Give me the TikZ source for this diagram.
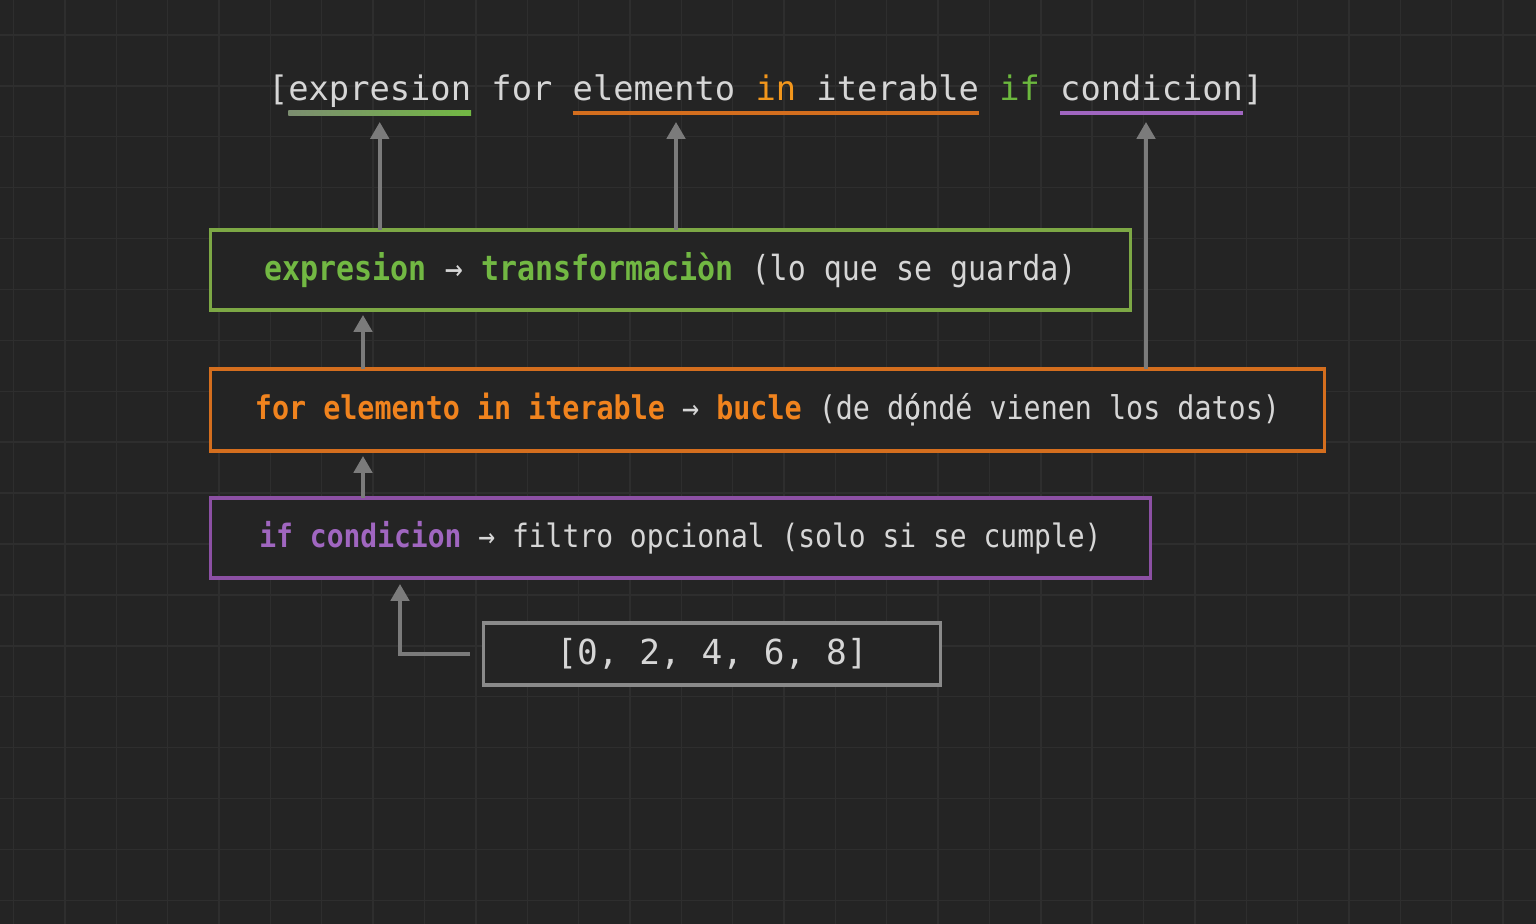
\documentclass[tikz,border=0pt]{standalone}
\usepackage{fontspec}
\setmonofont{DejaVu Sans Mono}
\newfontfamily\boxfont[FakeStretch=0.87]{DejaVu Sans Mono}
\usepackage{tikz}
\usetikzlibrary{positioning,arrows.meta}

\definecolor{bgcol}{HTML}{242424}
\definecolor{gridcol}{HTML}{2E2E2E}
\definecolor{txtcol}{HTML}{D6D6D6}
\definecolor{gcol}{HTML}{72B843}
\definecolor{gline}{HTML}{7DA845}
\definecolor{ocol}{HTML}{F0831E}
\definecolor{oline}{HTML}{D46E1E}
\definecolor{pcol}{HTML}{A066C0}
\definecolor{pline}{HTML}{8C50A4}
\definecolor{listline}{HTML}{8A8A8A}
\definecolor{arrcol}{HTML}{7B7B7B}
\definecolor{inorange}{HTML}{F2961C}
\definecolor{ifgreen}{HTML}{6CB83E}

\newcommand{\wsp}{5.78pt}

\tikzset{
  word/.style={inner sep=0pt, outer sep=0pt, text=txtcol, font=\ttfamily\fontsize{9.6}{11}\selectfont},
  codebox/.style={draw, line width=0.9pt, fill=bgcol, inner sep=0pt, outer sep=0pt, text=txtcol},
  link/.style={arrcol, line width=1.1pt},
  uline/.style={line width=1.2pt}
}

\begin{document}
\begin{tikzpicture}[>={Triangle[length=4.8pt,width=5.2pt]}]

% background and grid
\fill[bgcol] (0,0) rectangle (15.36,9.24);
\useasboundingbox (0,0) rectangle (15.36,9.24);
\foreach \gx in {0,...,29}
  \draw[gridcol, line width=0.4pt] ({0.136+0.5136*\gx},0) -- ++(0,9.24);
\foreach \gy in {0,...,17}
  \draw[gridcol, line width=0.4pt] (0,{8.89-0.509*\gy}) -- ++(15.36,0);

% comprehension line
\node[word, anchor=base west] (t_bra) at (2.68,8.23) {[};
\node[word, base right=0pt of t_bra] (t_expr) {expresion};
\node[word, base right=\wsp of t_expr] (t_for) {for};
\node[word, base right=\wsp of t_for] (t_elem) {elemento};
\node[word, base right=\wsp of t_elem, text=inorange] (t_in) {in};
\node[word, base right=\wsp of t_in] (t_iter) {iterable};
\node[word, base right=\wsp of t_iter, text=ifgreen] (t_if) {if};
\node[word, base right=\wsp of t_if] (t_cond) {condicion};
\node[word, base right=0pt of t_cond] (t_ket) {]};

% underlines
\shade[left color=gray!75!gcol, right color=gcol] ([yshift=-2.8pt]t_expr.base west) rectangle ([yshift=-4pt]t_expr.base east);
\draw[uline, oline] ([yshift=-3.4pt]t_elem.base west) -- ([yshift=-3.4pt]t_iter.base east);
\draw[uline, pcol] ([yshift=-3.4pt]t_cond.base west) -- ([yshift=-3.4pt]t_cond.base east);

% boxes
\node[codebox, draw=gline, minimum width=9.2cm, minimum height=0.8cm] (expr_b) at (6.705,6.54)
  {\boxfont\fontsize{9.8}{12}\selectfont{\bfseries\color{gcol}expresion} → {\bfseries\color{gcol}transformaciòn} (lo que se guarda)};
\node[codebox, draw=oline, minimum width=11.14cm, minimum height=0.82cm] (for_b) at (7.675,5.14)
  {\boxfont\fontsize{9.28}{12}\selectfont{\bfseries\color{ocol}for elemento in iterable} → {\bfseries\color{ocol}bucle} (de d\rlap{ọ}óndé vienen los datos)};
\node[codebox, draw=pline, minimum width=9.4cm, minimum height=0.8cm] (if_b) at (6.805,3.86)
  {\boxfont\fontsize{9.15}{12}\selectfont{\bfseries\color{pcol}if condicion} → filtro opcional (solo si se cumple)};
\node[codebox, draw=listline, minimum width=4.57cm, minimum height=0.62cm] (list_b) at (7.12,2.70)
  {\ttfamily\fontsize{9.8}{12}\selectfont [0, 2, 4, 6, 8]};

% links
\coordinate (a_loop) at (6.76,8.02);
\coordinate (a_cond) at (11.46,8.02);
\coordinate (a_mid) at (3.63,0);
\coordinate (a_src) at (4.00,0);

\draw[link,->] (expr_b.north -| t_expr.base) -- ([yshift=-0.21cm]t_expr.base);
\draw[link,->] (expr_b.north -| a_loop) -- (a_loop);
\draw[link,->] (for_b.north -| a_cond) -- (a_cond);
\draw[link,->,shorten >=0.05cm] (for_b.north -| a_mid) -- (expr_b.south -| a_mid);
\draw[link,->,shorten >=0.05cm] (if_b.north -| a_mid) -- (for_b.south -| a_mid);
\draw[link,->,shorten <=0.14cm,shorten >=0.06cm] (list_b.west) -| (if_b.south -| a_src);

\end{tikzpicture}
\end{document}
